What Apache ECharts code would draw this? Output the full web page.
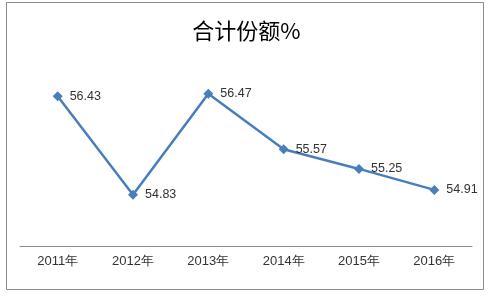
<!DOCTYPE html>
<html><head><meta charset="utf-8">
<script src="https://cdn.jsdelivr.net/npm/echarts@6/dist/echarts.min.js"></script>
<style>html,body{margin:0;padding:0;background:#fff}#c{width:493px;height:296px}</style>
</head><body><div id="c"></div>
<script>
var categories = ['2011年','2012年','2013年','2014年','2015年','2016年'];
var values = [56.43, 54.83, 56.47, 55.57, 55.25, 54.91];
var titleText = '合计份额%';

var chart = echarts.init(document.getElementById('c'), null, {renderer:'canvas'});
chart.setOption({
  animation: false,
  backgroundColor: '#fff',
  title: {
    text: titleText, left: 'center', top: 15,
    textStyle: {fontFamily: 'Noto Sans CJK SC', fontSize: 22, fontWeight: 'normal', color: '#000'}
  },
  graphic: [{
    type: 'rect', shape: {x: 6.5, y: 2.5, width: 477, height: 287},
    style: {fill: 'none', stroke: '#8c8c8c', lineWidth: 1}, silent: true
  }],
  grid: {left: 20, right: 21, top: 61, bottom: 50},
  xAxis: {
    type: 'category', data: categories, boundaryGap: true,
    axisLine: {lineStyle: {color: '#8c8c8c', width: 1}},
    axisTick: {show: false},
    axisLabel: {color: '#333', fontSize: 13, fontFamily: 'Liberation Sans', margin: 9}
  },
  yAxis: {
    type: 'value', min: 54, max: 57, interval: 1, show: false,
    splitLine: {show: false}
  },
  series: [{
    type: 'line', data: values,
    symbol: 'diamond', symbolSize: 10,
    lineStyle: {color: '#4a7ebb', width: 2.5},
    itemStyle: {color: '#4a7ebb'},
    label: {show: true, position: 'right', distance: 7, color: '#333', fontSize: 12.5, fontFamily: 'Liberation Sans',
      formatter: function(p){ return p.value.toFixed(2); }}
  }]
});
</script></body></html>
